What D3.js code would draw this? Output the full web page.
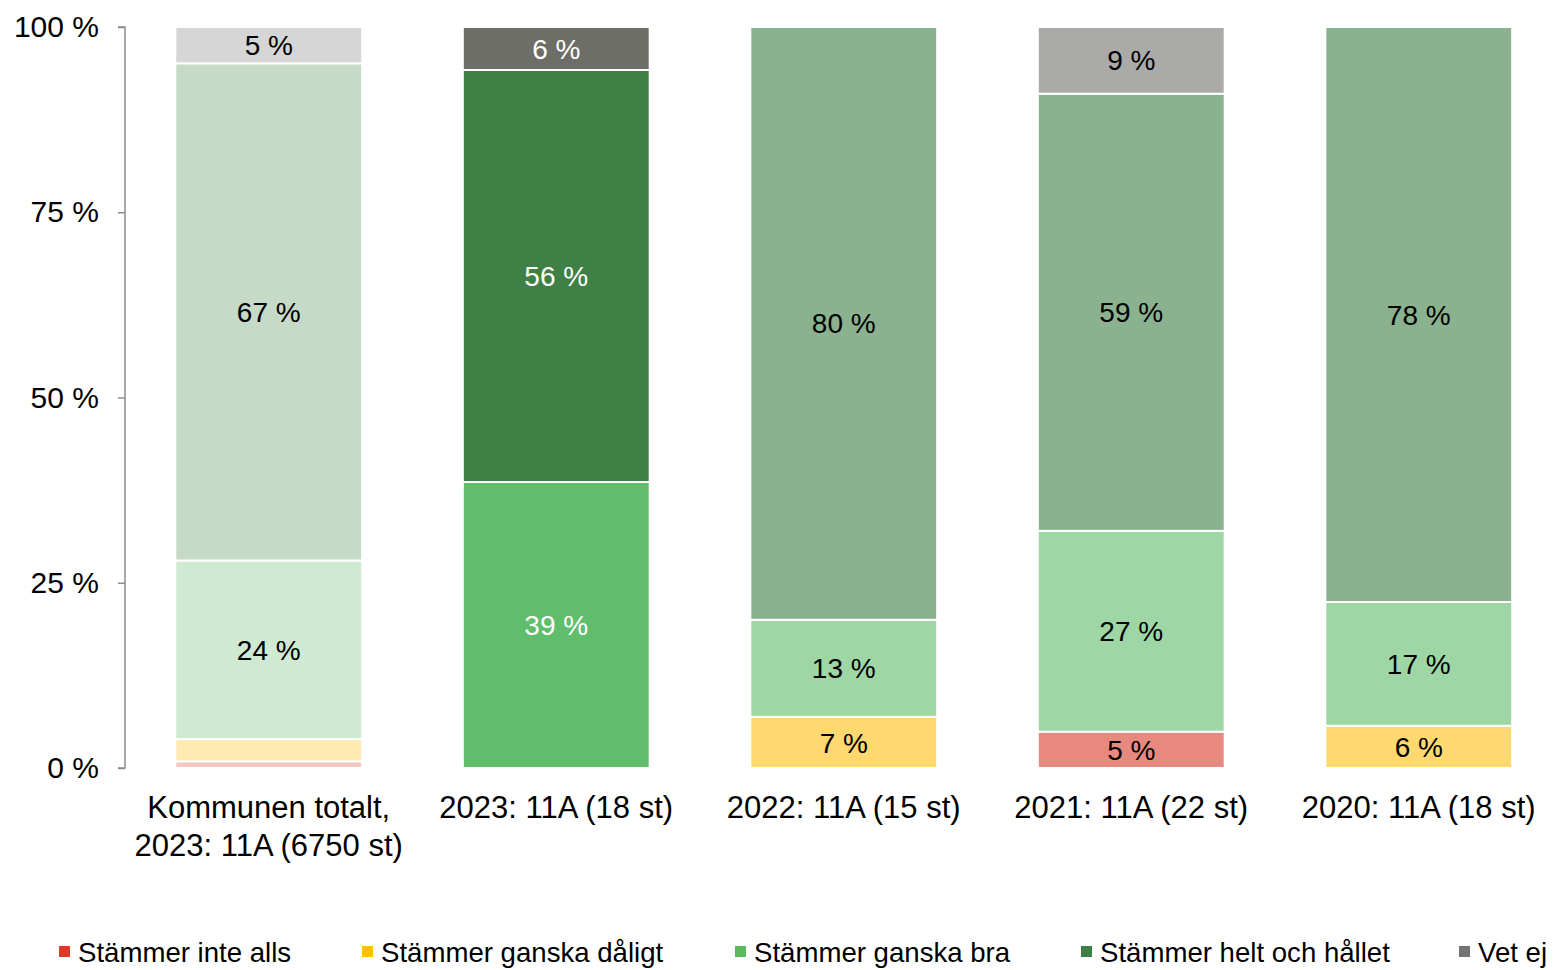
<!DOCTYPE html>
<html>
<head>
<meta charset="utf-8">
<script src="https://cdn.jsdelivr.net/npm/d3@7"></script>
<style>
  body { margin: 0; background: #fff; }
  svg text { font-family: "Liberation Sans", Arial, sans-serif; }
</style>
</head>
<body>
<div id="chart"></div>
<script>
// categories along x
const categories = [
  ['Kommunen totalt,', '2023: 11A (6750 st)'],
  ['2023: 11A (18 st)'],
  ['2022: 11A (15 st)'],
  ['2021: 11A (22 st)'],
  ['2020: 11A (18 st)']
];
const seriesNames = ['Stämmer inte alls', 'Stämmer ganska dåligt', 'Stämmer ganska bra', 'Stämmer helt och hållet', 'Vet ej'];

// percent per category, one array per series
const inteAlls   = [0.9, 0,    0,    4.9,  0];
const daligt     = [3.0, 0,    6.9,  0,    5.7];
const bra        = [24.1, 38.6, 13.1, 27.1, 16.7];
const heltHallet = [67.1, 55.6, 80.0, 59.0, 77.6];
const vetEj      = [4.9, 5.8,  0,    9.0,  0];
const seriesValues = [inteAlls, daligt, bra, heltHallet, vetEj];

const yTicks = [0, 25, 50, 75, 100];

// colour sets: legend, then per bar (faded reference bar, highlighted 2023, older years)
const legendColors = ['#dc3a2b', '#ffc000', '#5cb85f', '#3d7f45', '#737373'];
const barColors = [
  ['#f4c7c3', '#ffeab4', '#cfe9d2', '#c5dac7', '#d6d6d6'],   // kommunen
  ['#e03c31', '#ffc000', '#5fbd6b', '#3e8046', '#6e6e68'],   // 2023
  ['#e8897f', '#ffd86f', '#9ed6a5', '#8bb28f', '#aaaaa8'],   // 2022
  ['#e8897f', '#ffd86f', '#9ed6a5', '#8bb28f', '#aaaaa8'],   // 2021
  ['#e8897f', '#ffd86f', '#9ed6a5', '#8bb28f', '#aaaaa8']    // 2020
];
const labelColors = ['#000', '#fff', '#000', '#000', '#000'];

const W = 1554, H = 970;
const svg = d3.select('#chart').append('svg').attr('width', W).attr('height', H);

const x = d3.scaleBand().domain(d3.range(categories.length))
  .range([125, 1562.5]).paddingInner(0.35).paddingOuter(0.175);
const y = d3.scaleLinear().domain([0, 100]).range([768, 27]);

// y axis
const yAxis = svg.append('g').attr('transform', 'translate(125,0)')
  .call(d3.axisLeft(y).tickValues(yTicks).tickSize(7).tickPadding(19).tickFormat(d => d + ' %'));
yAxis.select('.domain').attr('stroke', '#8c8c8c').attr('stroke-width', 1.5)
  .attr('d', 'M-7,' + y(100) + 'H0V' + y(0) + 'H-7');
yAxis.selectAll('.tick line').attr('stroke', '#8c8c8c').attr('stroke-width', 1.5);
yAxis.selectAll('.tick text').attr('font-size', 30).attr('fill', '#000')
  .attr('font-family', '"Liberation Sans", Arial, sans-serif');

// stacked segments
const stackData = categories.map((c, i) => {
  const row = { i };
  seriesValues.forEach((s, k) => row[k] = s[i]);
  return row;
});
const stacked = d3.stack().keys(d3.range(seriesNames.length))(stackData);

stacked.forEach((layer, k) => {
  const g = svg.append('g');
  layer.forEach((d, i) => {
    const v = d[1] - d[0];
    if (v <= 0) return;
    g.append('rect')
      .attr('x', x(i)).attr('width', x.bandwidth())
      .attr('y', y(d[1])).attr('height', y(d[0]) - y(d[1]))
      .attr('fill', barColors[i][k])
      .attr('stroke', '#fff').attr('stroke-width', 2);
    if (v >= 4.5) {
      g.append('text')
        .attr('x', x(i) + x.bandwidth() / 2)
        .attr('y', (y(d[0]) + y(d[1])) / 2)
        .attr('dy', '0.36em')
        .attr('text-anchor', 'middle')
        .attr('font-size', 28)
        .attr('fill', labelColors[i])
        .text(Math.round(v) + ' %');
    }
  });
});

// category labels
categories.forEach((lines, i) => {
  const t = svg.append('text')
    .attr('x', x(i) + x.bandwidth() / 2)
    .attr('y', 818)
    .attr('text-anchor', 'middle')
    .attr('font-size', 31)
    .attr('fill', '#000');
  lines.forEach((l, j) => t.append('tspan')
    .attr('x', x(i) + x.bandwidth() / 2).attr('dy', j ? 38 : 0).text(l));
});

// legend
const legendX = [59, 362, 735, 1081, 1459];
const legend = svg.append('g');
seriesNames.forEach((name, k) => {
  legend.append('rect').attr('x', legendX[k]).attr('y', 946)
    .attr('width', 11).attr('height', 11).attr('fill', legendColors[k]);
  legend.append('text').attr('x', legendX[k] + 19).attr('y', 962)
    .attr('font-size', 27.6).attr('fill', '#000').text(name);
});
</script>
</body>
</html>
